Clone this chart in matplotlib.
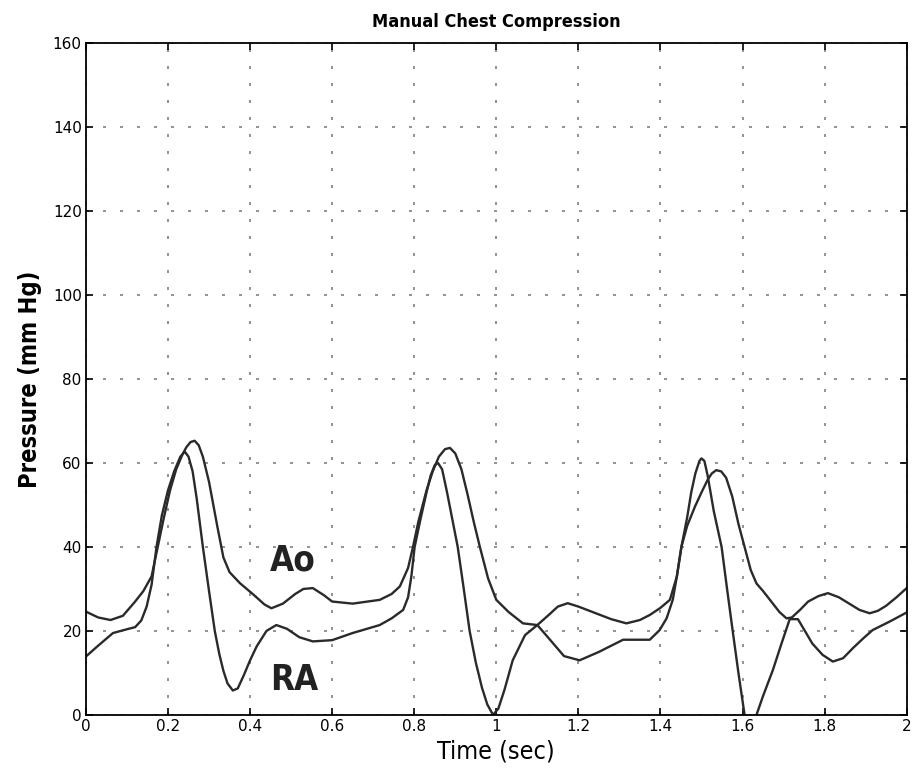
import matplotlib
matplotlib.use("Agg")
import matplotlib.pyplot as plt

# Aortic pressure (Ao)
ao_t = [0.00, 0.03, 0.06, 0.09, 0.12, 0.14, 0.16, 0.175, 0.19, 0.205, 0.22, 0.235, 0.245, 0.255,
        0.265, 0.275, 0.285, 0.30, 0.32, 0.335, 0.35, 0.375, 0.41, 0.435, 0.452, 0.48, 0.51, 0.53,
        0.553, 0.58, 0.60, 0.65, 0.716, 0.745, 0.765, 0.785, 0.797, 0.81, 0.83, 0.845, 0.86, 0.875,
        0.887, 0.90, 0.915, 0.93, 0.945, 0.96, 0.98, 1.00, 1.03, 1.065, 1.10, 1.13, 1.15, 1.174,
        1.20, 1.24, 1.28, 1.317, 1.35, 1.374, 1.40, 1.423, 1.44, 1.451, 1.465, 1.484, 1.50, 1.515,
        1.525, 1.536, 1.548, 1.56, 1.575, 1.59, 1.605, 1.62, 1.634, 1.65, 1.67, 1.69, 1.707, 1.72,
        1.74, 1.76, 1.785, 1.808, 1.835, 1.86, 1.885, 1.91, 1.93, 1.95, 1.975, 2.00]
ao_p = [24.6, 23.2, 22.6, 23.6, 27, 29.5, 33, 40, 47, 53.5, 58.5, 62, 63.8, 65,
        65.3, 64.2, 61.5, 55.5, 45, 37.5, 34, 31.4, 28.5, 26.3, 25.4, 26.5, 28.8, 30,
        30.2, 28.5, 27, 26.5, 27.4, 28.8, 30.6, 35, 40, 46, 53.5, 58, 61.5, 63.3,
        63.6, 62.3, 58.5, 52.5, 46, 40, 32.5, 27.4, 24.5, 21.8, 21.4, 24, 25.8, 26.6,
        25.8, 24.3, 22.8, 21.8, 22.6, 23.8, 25.5, 27.4, 33, 40, 45, 49.6, 53, 56,
        57.5, 58.3, 58, 56.5, 52, 45.5, 40, 34.5, 31.3, 29.5, 27, 24.5, 23, 23.2,
        25, 27, 28.3, 29, 28, 26.5, 25, 24.2, 24.8, 26, 28, 30.2]

# Right atrial pressure (RA)
ra_t = [0.00, 0.03, 0.066, 0.10, 0.12, 0.135, 0.148, 0.16, 0.172, 0.185, 0.20, 0.215, 0.23, 0.241,
        0.25, 0.26, 0.27, 0.285, 0.30, 0.314, 0.325, 0.335, 0.345, 0.358, 0.37, 0.385, 0.40, 0.416,
        0.44, 0.464, 0.49, 0.52, 0.553, 0.60, 0.65, 0.716, 0.745, 0.773, 0.785, 0.793, 0.801, 0.815,
        0.83, 0.84, 0.85, 0.858, 0.868, 0.88, 0.893, 0.906, 0.92, 0.935, 0.95, 0.965, 0.978, 0.992,
        1.005, 1.02, 1.04, 1.07, 1.10, 1.13, 1.165, 1.203, 1.25, 1.309, 1.374, 1.398, 1.415, 1.43,
        1.44, 1.451, 1.465, 1.475, 1.485, 1.495, 1.50, 1.507, 1.515, 1.53, 1.549, 1.563, 1.576, 1.59,
        1.605, 1.62, 1.634, 1.65, 1.674, 1.695, 1.715, 1.735, 1.755, 1.77, 1.795, 1.82, 1.845, 1.87,
        1.895, 1.917, 1.96, 2.00]
ra_p = [13.9, 16.5, 19.5, 20.4, 20.9, 22.5, 25.8, 31, 40, 47.5, 53.5, 58, 61.5, 62.7,
        61.5, 58, 51.5, 40, 29.5, 20, 14.5, 10.5, 7.5, 5.8, 6.3, 9.5, 13, 16.3,
        20, 21.4, 20.5, 18.5, 17.5, 17.8, 19.5, 21.4, 23, 25, 28, 33, 40, 46.5,
        53, 57, 59.5, 60, 58.5, 53, 46.5, 40, 30.5, 20, 12.5, 6.5, 2.5, 0,
        1.5, 6, 13, 19, 21.4, 18, 14, 13, 15, 17.9, 17.9, 20.2, 23, 27.4,
        33, 40, 47, 53, 57.5, 60.5, 61.1, 60.5, 57, 48.5, 40, 29.5, 20, 10,
        0, -4, 0, 4.5, 10.7, 17, 22.8, 22.8, 19.5, 17, 14.3, 12.7, 13.5, 16,
        18.3, 20.2, 22.3, 24.4]

x_ticks = [0, 0.2, 0.4, 0.6, 0.8, 1.0, 1.2, 1.4, 1.6, 1.8, 2.0]
x_tick_labels = ['0', '0.2', '0.4', '0.6', '0.8', '1', '1.2', '1.4', '1.6', '1.8', '2']
y_ticks = [0, 20, 40, 60, 80, 100, 120, 140, 160]

fig = plt.figure(figsize=(9.14, 7.72), dpi=100)
ax = fig.add_axes([0.094, 0.074, 0.898, 0.870])

line_color = '#2a2a2a'
ax.plot(ao_t, ao_p, color=line_color, lw=1.7, solid_joinstyle='round')
ax.plot(ra_t, ra_p, color=line_color, lw=1.7, solid_joinstyle='round')

ax.set_xlim(0, 2)
ax.set_ylim(0, 160)
ax.set_xticks(x_ticks)
ax.set_xticklabels(x_tick_labels)
ax.set_yticks(y_ticks)
ax.grid(True, linestyle=(0, (1.8, 8.4)), color='#808080', lw=1.2)
ax.tick_params(direction='in', top=True, right=True, length=5, width=1.2, labelsize=11, pad=3)
for s in ax.spines.values():
    s.set_linewidth(1.3)

cond = ['DejaVu Sans']
ax.set_title('Manual Chest Compression', fontsize=13, family=cond, fontstretch='condensed',
             fontweight='semibold', pad=12)
ax.set_xlabel('Time (sec)', fontsize=18, family=cond, fontstretch='condensed', labelpad=4)
ax.set_ylabel('Pressure (mm Hg)', fontsize=17, family=cond, fontstretch='condensed',
              fontweight='bold', labelpad=8)

ax.text(0.448, 34.5, 'Ao', fontsize=25, fontweight='bold', family=cond, fontstretch='condensed',
        color='#222222')
ax.text(0.448, 6.0, 'RA', fontsize=25, fontweight='bold', family=cond, fontstretch='condensed',
        color='#222222')

fig.savefig('out.png', dpi=100)
